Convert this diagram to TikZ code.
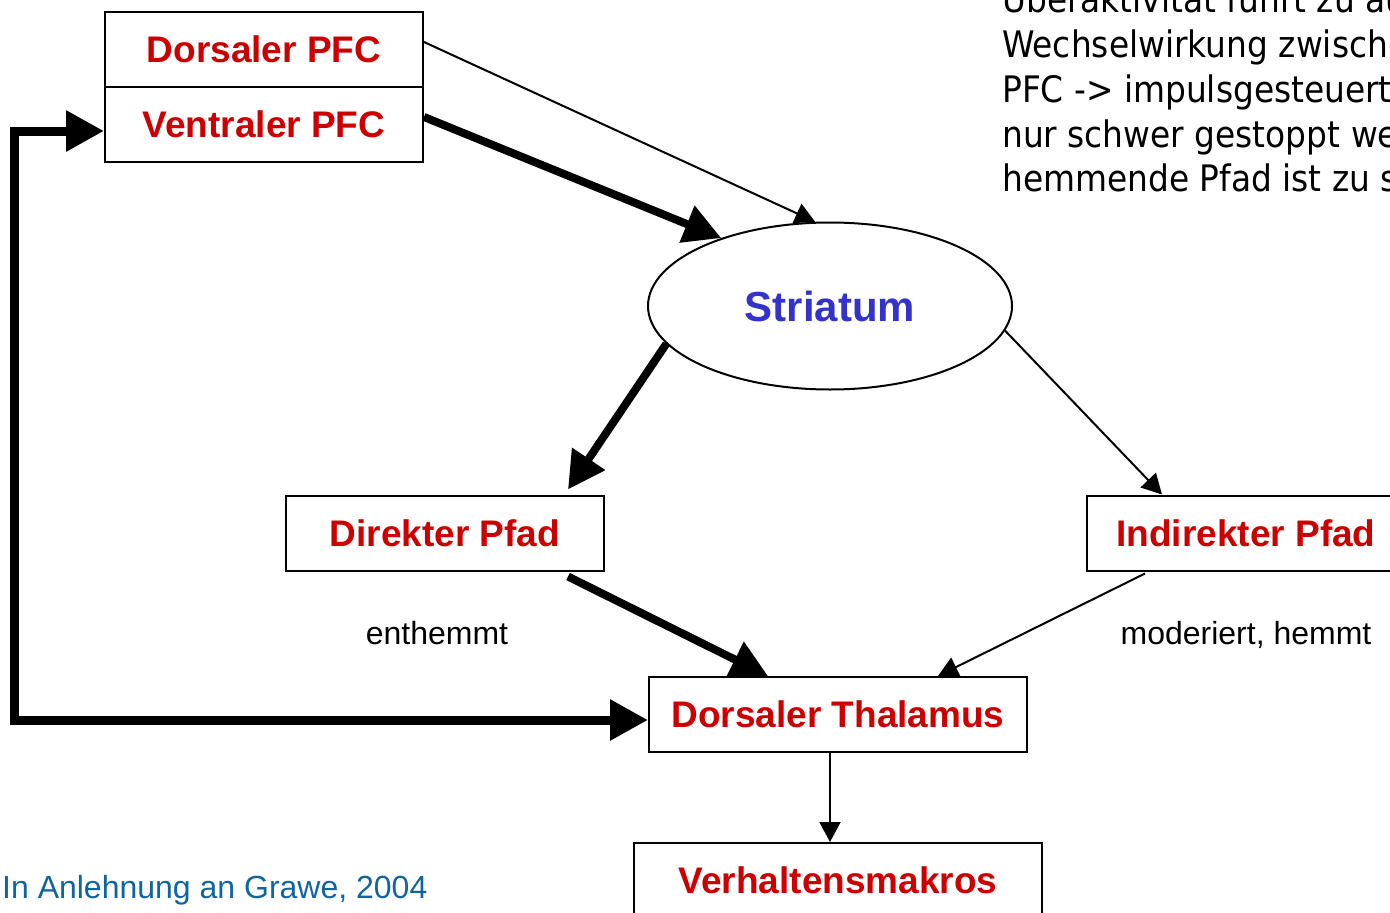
\documentclass[tikz,border=0pt]{standalone}
\usepackage{fontspec}
\setmainfont{Liberation Sans}
\newfontfamily\tahfont[FakeStretch=0.9]{DejaVu Sans}
\usetikzlibrary{arrows.meta,shapes.geometric,calc}
\definecolor{lblred}{RGB}{204,0,0}
\definecolor{striblue}{RGB}{51,51,204}
\definecolor{captblue}{RGB}{16,100,160}
\begin{document}
\begin{tikzpicture}[x=1pt,y=-1pt,
  box/.style={draw=black,line width=2pt,fill=white,minimum width=318pt,minimum height=75pt,inner sep=0pt,text=lblred,font=\fontsize{37}{44}\selectfont\bfseries},
  thinarr/.style={line width=2pt,-{Triangle[length=20pt,width=21pt]}},
  thickarr/.style={line width=8pt,-{Triangle[length=37pt,width=38pt]}},
  fbarr/.style={line width=9pt,{Triangle[length=38pt,width=39pt]}-{Triangle[length=38pt,width=39pt]}},
  plain/.style={inner sep=0pt,font=\fontsize{32}{38}\selectfont},
  side/.style={inner sep=0pt,anchor=base west,font=\tahfont\fontsize{36.5}{45}\selectfont}
]
\path[use as bounding box] (0,0) rectangle (1390,913);
\clip (0,0) rectangle (1390,913);

% side text (clipped at the right/top)
\node[side] (t1) at (1002,12) {Überaktivität führt zu au};
\node[side] (t2) at (1002,57) {Wechselwirkung zwische};
\node[side] (t3) at (1002,102) {PFC -> impulsgesteuert};
\node[side] (t4) at (1002,147) {nur schwer gestoppt we};
\node[side] (t5) at (1002,191) {hemmende Pfad ist zu s};

% nodes
\node[box] (dpfc) at (264,49.5) {Dorsaler PFC};
\node[box] (vpfc) at (264,124.5) {Ventraler PFC};
\node[ellipse,draw=black,line width=2pt,fill=white,minimum width=364pt,minimum height=167pt,inner sep=0pt,text=striblue,font=\fontsize{42}{50}\selectfont\bfseries] (stri) at (830,306) {Striatum};
\node[box] (dir) at (445,533) {Direkter Pfad};
\node[box] (ind) at (1246,533) {Indirekter Pfad};
\node[box,minimum width=378pt] (thal) at (838,714.5) {Dorsaler Thalamus};
\node[box,minimum width=408pt] (verh) at (838,880.5) {Verhaltensmakros};

% labels
\node[plain,anchor=base] (enth) at (437,644) {enthemmt};
\node[plain,anchor=base] (mod) at (1246,644) {moderiert, hemmt};
\node[plain,anchor=base west,text=captblue] (cap) at (2,898) {In Anlehnung an Grawe, 2004};

% connectors
\draw[thinarr] ([yshift=7.5pt]dpfc.east) -- (stri.100);
\draw[thickarr] ([yshift=7.5pt]vpfc.east) -- (stri.148);
\draw[thickarr] (stri.193) -- ($(dir.north)+(123,-5)$);
\draw[thinarr] (stri.-8) -- ($(ind.north)+(-84,0)$);
\draw[thickarr] ($(dir.south)+(123,5)$) -- ($(thal.north)+(-70,0)$);
\draw[thinarr] ($(ind.south)+(-101,2)$) -- ($(thal.north)+(100,0)$);
\draw[thinarr] ($(thal.south)+(-8,0)$) -- ($(verh.north)+(-8,0)$);
\coordinate (fbl) at (14,131);
\draw[fbarr] ($(thal.west)+(0,5.5)$) -| (fbl) -- ($(vpfc.west)+(0,6.5)$);
\end{tikzpicture}
\end{document}
